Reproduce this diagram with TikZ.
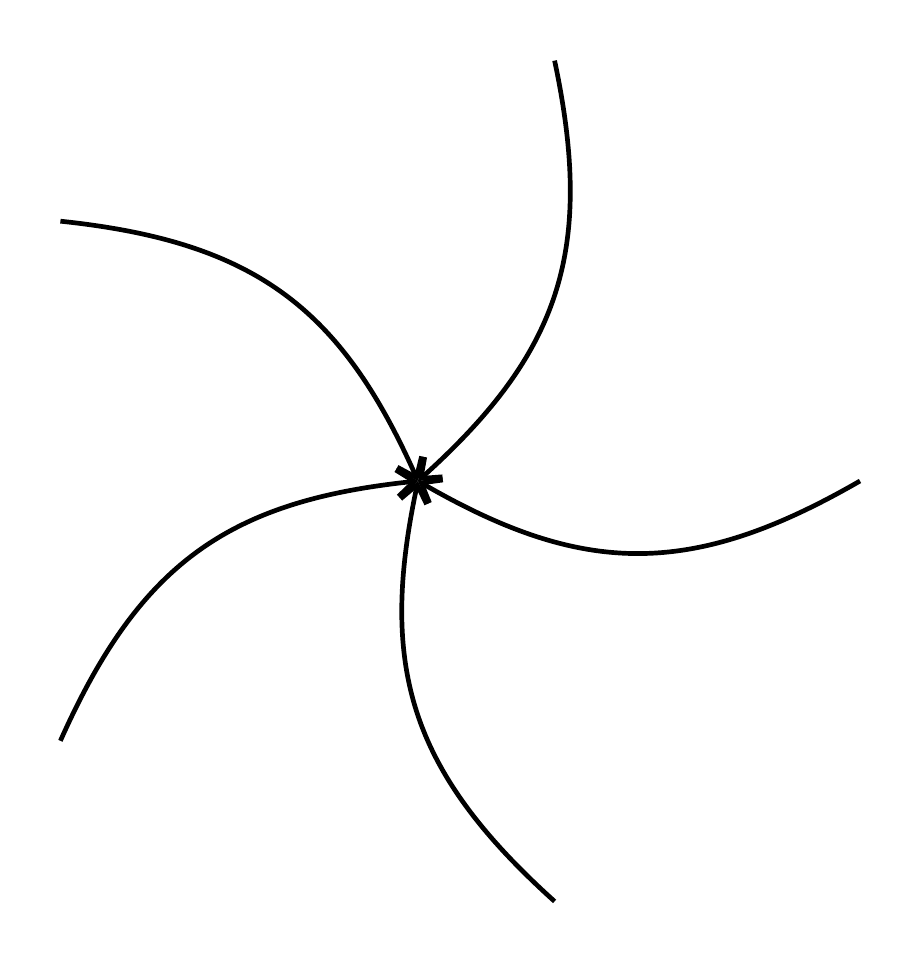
\documentclass[tikz,border=0pt]{standalone}
\usetikzlibrary{arrows.meta}
\begin{document}
\begin{tikzpicture}[x=0.32pt,y=0.32pt,
  spoke/.style={-{Straight Barb[length=5.5pt,width=8.5pt]},line width=1.5pt}]
\useasboundingbox (-418,481) rectangle (500,-483);
\coordinate (c) at (0,0);
\foreach \i in {0,...,4}{
  \pgfmathsetmacro{\a}{72*\i}
  \coordinate (e\i) at (\a:442);
  \draw[spoke] (e\i) .. controls +(\a+210:195) and +(\a-30:190) .. (c);
}
\end{tikzpicture}
\end{document}
